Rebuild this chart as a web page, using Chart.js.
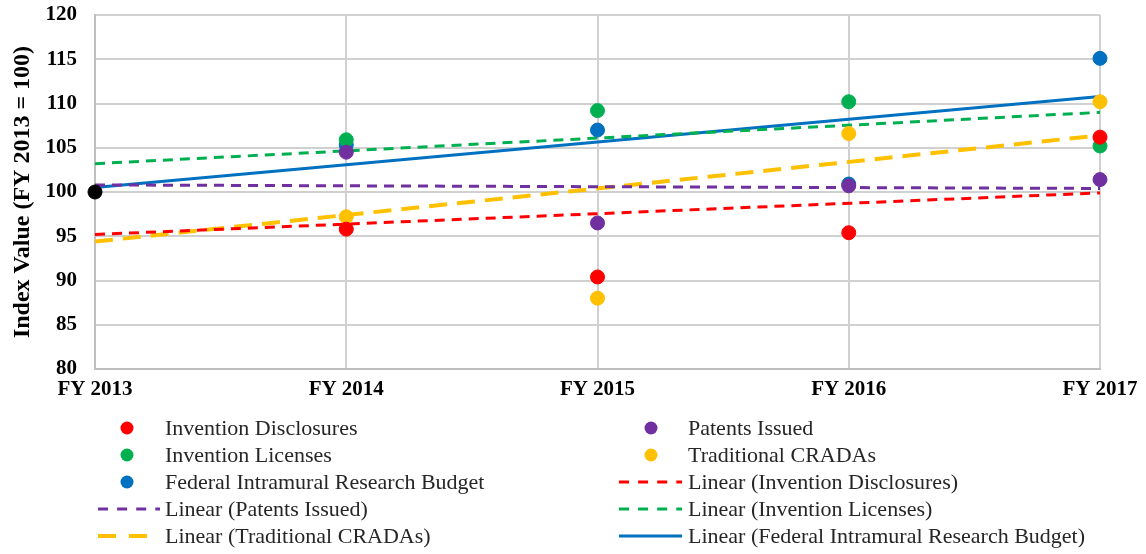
<!DOCTYPE html>
<html>
<head>
<meta charset="utf-8">
<script src="https://cdn.jsdelivr.net/npm/chart.js@4"></script>
<style>
  html, body { margin: 0; padding: 0; background: #fff; }
  #wrap { width: 1146px; height: 554px; }
</style>
</head>
<body>
<div id="wrap"><canvas id="myChart" width="1146" height="554"></canvas></div>
<script>
// categories and values
const categories = ['FY 2013', 'FY 2014', 'FY 2015', 'FY 2016', 'FY 2017'];
const baseline = [100, null, null, null, null];
const inventionDisclosures = [null, 95.8, 90.4, 95.4, 106.2];
const patentsIssued = [null, 104.5, 96.5, 100.7, 101.4];
const inventionLicenses = [null, 105.9, 109.2, 110.2, 105.2];
const traditionalCRADAs = [null, 97.2, 88.0, 106.6, 110.2];
const researchBudget = [null, 105.3, 107.0, 100.9, 115.1];

// trend line end points (FY 2013 and FY 2017)
const trendDisclosures = [95.2, null, null, null, 99.9];
const trendPatents = [100.8, null, null, null, 100.4];
const trendLicenses = [103.2, null, null, null, 109.0];
const trendCRADAs = [94.4, null, null, null, 106.4];
const trendBudget = [100.5, null, null, null, 110.8];

const yTicks = [80, 85, 90, 95, 100, 105, 110, 115, 120];

const RED = '#FF0000', PURPLE = '#7030A0', GREEN = '#00B050', GOLD = '#FFC000', BLUE = '#0070C0';
const SERIF = '"Liberation Serif", "Times New Roman", serif';

function pts(label, data, color) {
  return {
    label: label, data: data, showLine: false,
    pointRadius: 7, pointHoverRadius: 7,
    pointBackgroundColor: color, pointBorderColor: color, borderColor: color,
    backgroundColor: color, order: 1
  };
}
function trend(label, data, color, width, dash) {
  return {
    label: label, data: data, spanGaps: true,
    borderColor: color, backgroundColor: color, borderWidth: width,
    borderDash: dash, pointRadius: 0, pointHoverRadius: 0, order: 2
  };
}

const datasets = [
  pts('Invention Disclosures', inventionDisclosures, RED),
  pts('Patents Issued', patentsIssued, PURPLE),
  pts('Invention Licenses', inventionLicenses, GREEN),
  pts('Traditional CRADAs', traditionalCRADAs, GOLD),
  pts('Federal Intramural Research Budget', researchBudget, BLUE),
  trend('Linear (Invention Disclosures)', trendDisclosures, RED, 3, [10, 7]),
  trend('Linear (Patents Issued)', trendPatents, PURPLE, 3, [10, 7]),
  trend('Linear (Invention Licenses)', trendLicenses, GREEN, 3, [10, 7]),
  trend('Linear (Traditional CRADAs)', trendCRADAs, GOLD, 4, [18, 10]),
  trend('Linear (Federal Intramural Research Budget)', trendBudget, BLUE, 3, []),
  Object.assign(pts('FY 2013', baseline, '#000000'), { order: 0, noLegend: true })
];

// two-column legend drawn under the axis
const legendPlugin = {
  id: 'twoColLegend',
  afterDraw(chart) {
    const ctx = chart.ctx;
    const cols = [{ dot: 127, x0: 98, x1: 160, text: 165 }, { dot: 651, x0: 619, x1: 682, text: 688 }];
    const rows = [428, 455, 482, 509, 536];
    const items = chart.data.datasets.filter(d => !d.noLegend);
    ctx.save();
    ctx.font = '22px ' + SERIF;
    ctx.textBaseline = 'middle';
    items.forEach((d, i) => {
      const c = cols[i % 2], y = rows[Math.floor(i / 2)];
      if (d.showLine === false) {
        ctx.beginPath();
        ctx.fillStyle = d.pointBackgroundColor;
        ctx.arc(c.dot, y, 6.5, 0, Math.PI * 2);
        ctx.fill();
      } else {
        ctx.beginPath();
        ctx.strokeStyle = d.borderColor;
        ctx.lineWidth = d.borderWidth;
        ctx.setLineDash(d.borderDash.length ? [d.borderDash[0], d.borderDash[1] * 1.3] : []);
        ctx.moveTo(c.x0, y);
        ctx.lineTo(c.x1, y);
        ctx.stroke();
        ctx.setLineDash([]);
      }
      ctx.fillStyle = '#262626';
      ctx.fillText(d.label, c.text, y + 1);
    });
    ctx.restore();
  }
};

const ctx = document.getElementById('myChart').getContext('2d');
const myChart = new Chart(ctx, {
  type: 'line',
  data: { labels: categories, datasets: datasets },
  options: {
    responsive: false,
    animation: false,
    layout: { padding: { top: 15, right: 46, bottom: 0, left: 0 } },
    plugins: { legend: { display: false }, tooltip: { enabled: false } },
    scales: {
      x: {
        offset: false,
        grid: { color: '#d0d0d0', lineWidth: 2, drawTicks: false },
        border: { color: '#bfbfbf', width: 2 },
        ticks: { color: '#000', padding: 8, maxRotation: 0, font: { family: SERIF, size: 21, weight: 'bold' } },
        afterFit(scale) { scale.height = 185; }
      },
      y: {
        min: 80, max: 120,
        afterBuildTicks(scale) { scale.ticks = yTicks.map(v => ({ value: v })); },
        grid: { color: '#d0d0d0', lineWidth: 2, drawTicks: false },
        border: { color: '#bfbfbf', width: 2 },
        ticks: { color: '#000', padding: 18, font: { family: SERIF, size: 21, weight: 'bold' } },
        title: {
          display: true, text: 'Index Value (FY 2013 = 100)', color: '#000', padding: { top: 8, bottom: 0 },
          font: { family: SERIF, size: 24, weight: 'bold' }
        },
        afterFit(scale) {
          scale.width = 95;
          scale.paddingTop = 0;
          scale.paddingBottom = 0;
        }
      }
    }
  },
  plugins: [legendPlugin]
});
</script>
</body>
</html>
